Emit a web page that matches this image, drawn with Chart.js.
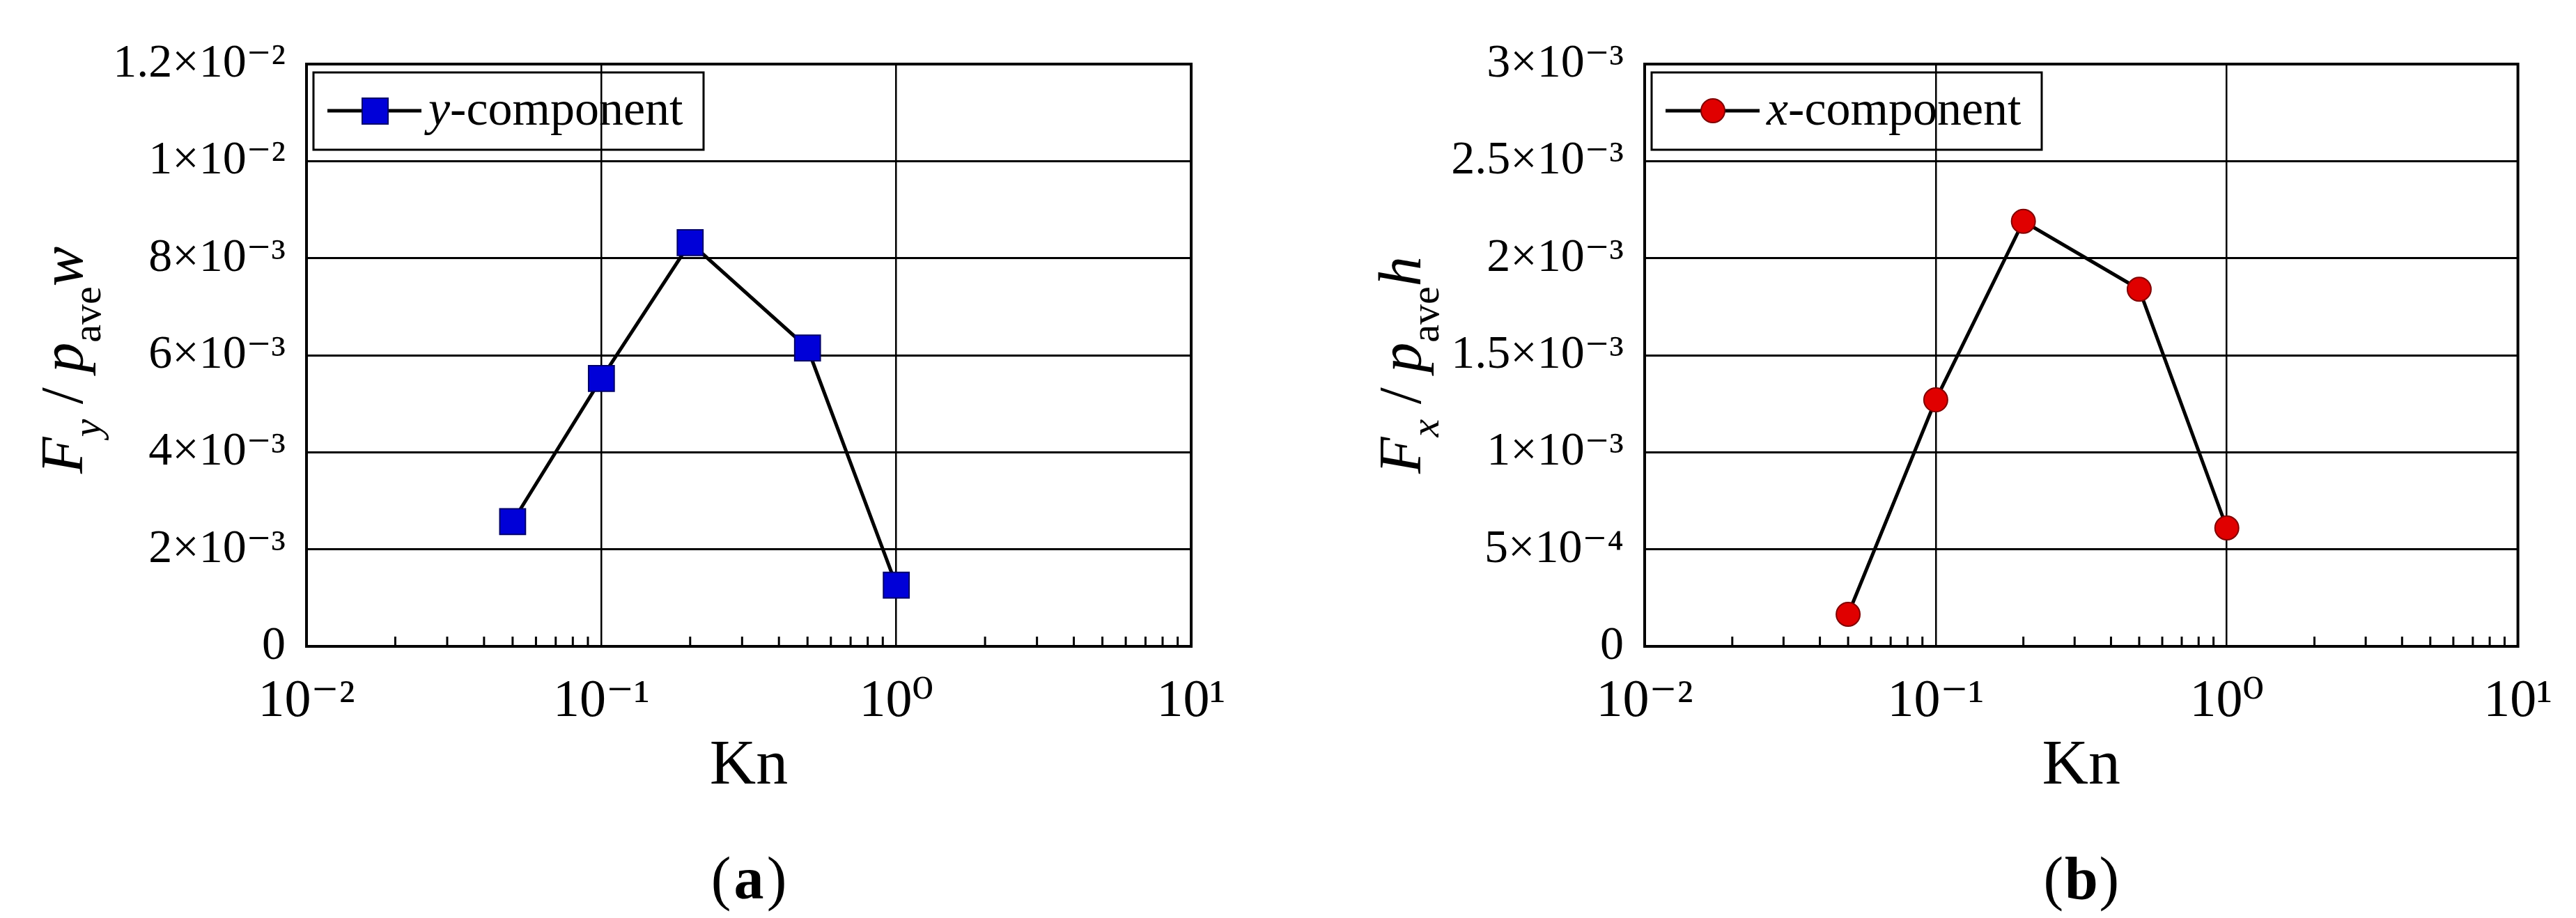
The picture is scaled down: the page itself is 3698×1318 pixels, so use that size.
<!DOCTYPE html>
<html>
<head>
<meta charset="utf-8">
<script src="https://cdn.jsdelivr.net/npm/chart.js@4.4.0/dist/chart.umd.min.js"></script>
<style>
body{margin:0;background:#fff;width:3698px;height:1318px;position:relative;overflow:hidden}
.box{position:absolute;top:0;width:1849px;height:1318px}
</style>
</head>
<body>
<div class="box" style="left:0"><canvas id="chartA"></canvas></div>
<div class="box" style="left:1849px"><canvas id="chartB"></canvas></div>
<script>
// data
const kn = [0.05, 0.1, 0.2, 0.5, 1.0];
const fy = [2.57e-3, 5.52e-3, 8.32e-3, 6.15e-3, 1.26e-3];
const fx = [0.165e-3, 1.27e-3, 2.19e-3, 1.84e-3, 0.61e-3];

const yTicksA = ["0","2×10⁻³","4×10⁻³","6×10⁻³","8×10⁻³","1×10⁻²","1.2×10⁻²"];
const yTicksB = ["0","5×10⁻⁴","1×10⁻³","1.5×10⁻³","2×10⁻³","2.5×10⁻³","3×10⁻³"];
const xTicks = {"0.01":"10⁻²","0.1":"10⁻¹","1":"10⁰","10":"10¹"};

const FONT = "'Liberation Serif', 'DejaVu Serif', serif";

// frame, minor ticks, legend, titles, panel letter
function decorPlugin(cfg){
  return {
    id:"decor",
    afterDraw(chart){
      const ctx = chart.ctx, a = chart.chartArea, xs = chart.scales.x;
      ctx.save();
      ctx.strokeStyle = "#000";
      ctx.lineWidth = 4;
      ctx.strokeRect(a.left, a.top, a.right - a.left, a.bottom - a.top);
      // minor ticks inside bottom
      ctx.lineWidth = 3;
      for (let d = -2; d < 1; d++) {
        for (let m = 2; m <= 9; m++) {
          const px = xs.getPixelForValue(m * Math.pow(10, d));
          ctx.beginPath();
          ctx.moveTo(px, a.bottom);
          ctx.lineTo(px, a.bottom - 14);
          ctx.stroke();
        }
      }
      // legend
      const lx = a.left + 10, ly = a.top + 12;
      ctx.lineWidth = 3;
      ctx.strokeRect(lx, ly, cfg.legendW, 111);
      const my = ly + 55;
      ctx.lineWidth = 5;
      ctx.beginPath();
      ctx.moveTo(lx + 20, my);
      ctx.lineTo(lx + 155, my);
      ctx.stroke();
      ctx.fillStyle = cfg.color;
      ctx.lineWidth = 2;
      ctx.strokeStyle = cfg.border;
      if (cfg.shape === "rect") {
        ctx.fillRect(lx + 70, my - 18, 37, 37);
        ctx.strokeRect(lx + 70, my - 18, 37, 37);
      } else {
        ctx.beginPath();
        ctx.arc(lx + 88, my, 17, 0, Math.PI * 2);
        ctx.fill();
        ctx.stroke();
      }
      ctx.fillStyle = "#000";
      ctx.textBaseline = "middle";
      ctx.font = "italic 70px " + FONT;
      ctx.fillText(cfg.letter, lx + 165, my + 2);
      const w = ctx.measureText(cfg.letter).width;
      ctx.font = "70px " + FONT;
      ctx.fillText("-component", lx + 165 + w, my + 2);
      // y title
      ctx.save();
      ctx.translate(cfg.titleX, (a.top + a.bottom) / 2 - 20);
      ctx.rotate(-Math.PI / 2);
      ctx.textBaseline = "alphabetic";
      let x = -190;
      const put = (t, f, dy) => { ctx.font = f; ctx.fillText(t, x, dy); x += ctx.measureText(t).width; };
      put("F", "italic 86px " + FONT, 0);
      put(cfg.sub, "italic 58px " + FONT, 26);
      put(" / ", "86px " + FONT, 0);
      put("p", "italic 86px " + FONT, 0);
      put("ave", "58px " + FONT, 26);
      put(cfg.tail, "italic 86px " + FONT, 0);
      ctx.restore();
      const cx = (a.left + a.right) / 2;
      ctx.textAlign = "center";
      ctx.textBaseline = "alphabetic";
      // x title
      ctx.font = "92px " + FONT;
      ctx.fillText("Kn", cx, 1125);
      // panel letter
      ctx.font = "86px " + FONT;
      ctx.fillText("(", cx - 40, 1290);
      ctx.font = "bold 86px " + FONT;
      ctx.fillText(cfg.panel, cx, 1290);
      ctx.font = "86px " + FONT;
      ctx.fillText(")", cx + 40, 1290);
      ctx.restore();
    }
  };
}

function makeChart(id, values, yLabels, yMax, step, cfg){
  const pts = kn.map((k, i) => ({x: k, y: values[i]}));
  return new Chart(document.getElementById(id), {
    type: "line",
    data: {
      datasets: [{
        data: pts,
        borderColor: "#000",
        borderWidth: 5,
        pointStyle: cfg.shape,
        pointRadius: cfg.shape === "rect" ? 26 : 17,
        pointBackgroundColor: cfg.color,
        pointBorderColor: cfg.border,
        pointBorderWidth: 2,
        tension: 0
      }]
    },
    options: {
      responsive: false,
      animation: false,
      devicePixelRatio: 1,
      layout: {padding: {top: 92, right: cfg.padRight, bottom: 0, left: 0}},
      plugins: {legend: {display: false}, tooltip: {enabled: false}},
      scales: {
        x: {
          type: "logarithmic",
          min: 0.01, max: 10,
          afterFit: s => { s.height = 390; },
          afterBuildTicks: s => {
            const t = [];
            for (let d = -2; d <= 1; d++) t.push({value: Math.pow(10, d)});
            s.ticks = t;
          },
          ticks: {
            autoSkip: false, maxRotation: 0, padding: 34,
            color: "#000",
            font: {family: FONT, size: 76},
            callback: v => xTicks[String(v)] || ""
          },
          grid: {color: "#000", lineWidth: 2.5, drawTicks: false},
          border: {display: false}
        },
        y: {
          min: 0, max: yMax,
          afterFit: s => { s.width = cfg.axisW; },
          ticks: {
            stepSize: step, padding: 30, color: "#000",
            font: {family: FONT, size: 68},
            callback: (v, i) => yLabels[i]
          },
          grid: {color: "#000", lineWidth: 3, drawTicks: false},
          border: {display: false}
        }
      }
    },
    plugins: [decorPlugin(cfg)]
  });
}

function sizeCanvas(id){
  const c = document.getElementById(id);
  c.width = 1849; c.height = 1318;
  c.style.width = "1849px"; c.style.height = "1318px";
}
sizeCanvas("chartA");
sizeCanvas("chartB");

makeChart("chartA", fy, yTicksA, 0.012, 0.002, {
  axisW: 440, padRight: 139, shape: "rect", color: "#0000d8", border: "#00006a",
  letter: "y", legendW: 560, sub: "y", tail: "w", titleX: 118, panel: "a"
});
makeChart("chartB", fx, yTicksB, 0.003, 0.0005, {
  axisW: 512, padRight: 67, shape: "circle", color: "#e00000", border: "#800000",
  letter: "x", legendW: 560, sub: "x", tail: "h", titleX: 190, panel: "b"
});
</script>
</body>
</html>
